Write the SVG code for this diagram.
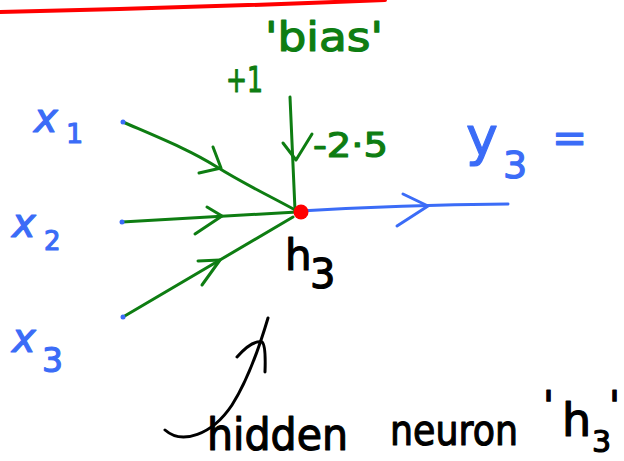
<svg xmlns="http://www.w3.org/2000/svg" width="624" height="461" viewBox="0 0 624 461">
<style>
.g{stroke:#0e7d12;stroke-width:3;fill:none;stroke-linecap:round;stroke-linejoin:round}
.b{stroke:#3b6cf7;stroke-width:3;fill:none;stroke-linecap:round;stroke-linejoin:round}
.k{stroke:#000;stroke-width:3;fill:none;stroke-linecap:round;stroke-linejoin:round}
text{font-family:"DejaVu Sans","Noto Sans",sans-serif;stroke-width:1.2;stroke-linejoin:round}
.tb{fill:#3b6cf7;stroke:#3b6cf7}
.tg{fill:#0e7d12;stroke:#0e7d12}
.tk{fill:#000;stroke:#000}
.it{font-style:italic}
</style>
<rect width="624" height="461" fill="#fff"/>
<path d="M0,12 Q190,8 385,0" stroke="#f00" stroke-width="4" fill="none" stroke-linecap="round"/>

<g id="connectors">
  <path class="g" d="M123,122 C160,138 190,150 217,167 S270,196 297,211"/>
  <path class="g" d="M213,147 L221,168 L199,173"/>
  <path class="g" d="M122,222 L297,212"/>
  <path class="g" d="M207,207 L222,216 L195,234"/>
  <path class="g" d="M123,317 L293,217"/>
  <path class="g" d="M198,261 L220,260 L202,285"/>
  <path class="g" d="M290,97 L295,210"/>
  <path class="g" d="M283,143 L296,160 L312,134"/>
  <path class="b" d="M300,211 Q400,205 508,204"/>
  <path class="b" d="M403,194 L428,206 L397,226"/>
</g>

<g id="x1">
  <circle cx="123" cy="122" r="2.5" fill="#3b6cf7"/>
  <text class="tb it" x="34" y="132" font-size="40">x</text>
  <text class="tb" x="66" y="143" font-size="27">1</text>
</g>
<g id="x2">
  <circle cx="122" cy="222" r="2.5" fill="#3b6cf7"/>
  <text class="tb it" x="12" y="237" font-size="40">x</text>
  <text class="tb" x="44" y="250" font-size="26">2</text>
</g>
<g id="x3">
  <circle cx="123" cy="317" r="2.5" fill="#3b6cf7"/>
  <text class="tb it" x="12" y="352" font-size="40">x</text>
  <text class="tb" x="42" y="372" font-size="33">3</text>
</g>
<g id="bias">
  <text class="tg" x="265" y="51" font-size="40" textLength="118" lengthAdjust="spacingAndGlyphs">'bias'</text>
  <text class="tg" x="226" y="92" font-size="36" textLength="37" lengthAdjust="spacingAndGlyphs">+1</text>
  <text class="tg" x="313" y="157" font-size="34" textLength="75" lengthAdjust="spacingAndGlyphs">-2·5</text>
</g>
<g id="h3">
  <circle cx="301" cy="212" r="7.5" fill="#f00"/>
  <text class="tk" x="285" y="270" font-size="42">h</text>
  <text class="tk" x="310" y="288" font-size="40">3</text>
</g>
<g id="y3">
  <text class="tb" x="466" y="155" font-size="54">y</text>
  <text class="tb" x="503" y="178" font-size="38">3</text>
  <text class="tb" x="552" y="152" font-size="42">=</text>
</g>
<g id="annotation">
  <path class="k" d="M165,430 C182,445 212,435 232,405 C248,380 260,345 268,318"/>
  <path class="k" d="M237,357 Q252,340 262,342 Q266,345 265,372"/>
  <text class="tk" x="207" y="450" font-size="44" textLength="141" lengthAdjust="spacingAndGlyphs">hidden</text>
  <text class="tk" x="390" y="445" font-size="42" textLength="128" lengthAdjust="spacingAndGlyphs">neuron</text>
  <text class="tk" x="543" y="420" font-size="40">'</text>
  <text class="tk" x="562" y="436" font-size="46">h</text>
  <text class="tk" x="592" y="452" font-size="30">3</text>
  <text class="tk" x="609" y="420" font-size="40">'</text>
</g>
</svg>
